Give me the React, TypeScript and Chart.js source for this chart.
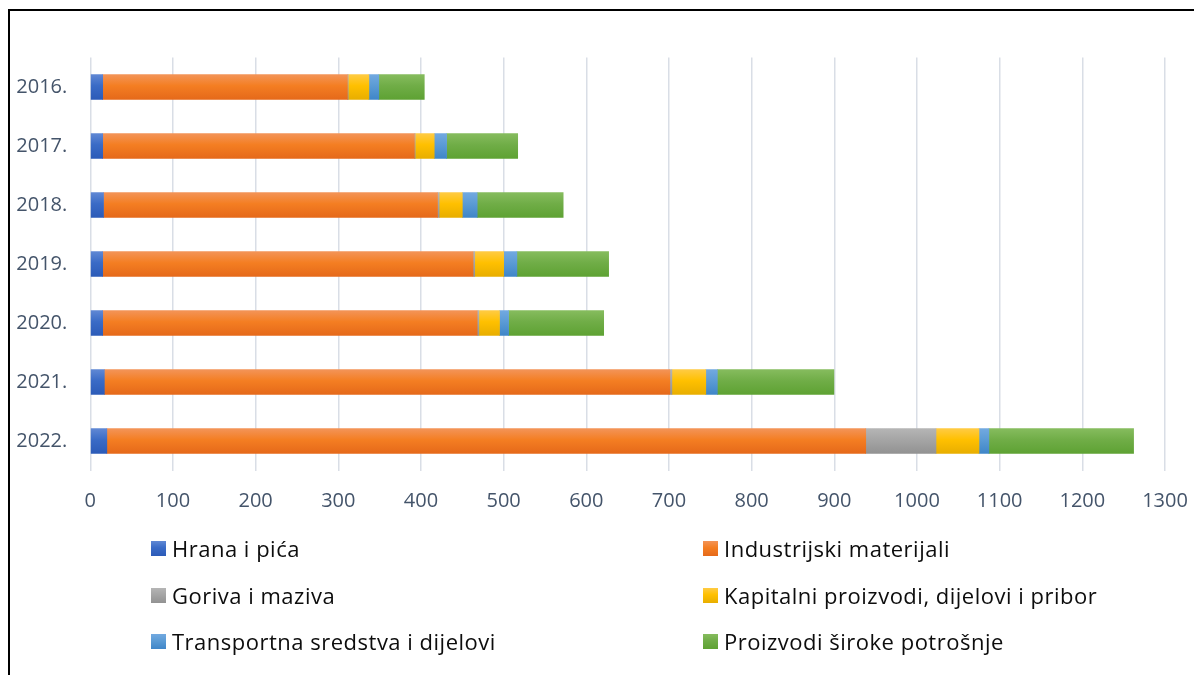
import React, { useEffect, useRef } from "react";
import { Chart, registerables } from "chart.js";

Chart.register(...registerables);

const years = ["2016.", "2017.", "2018.", "2019.", "2020.", "2021.", "2022."];
const seriesNames = [
  "Hrana i pića",
  "Industrijski materijali",
  "Goriva i maziva",
  "Kapitalni proizvodi, dijelovi i pribor",
  "Transportna sredstva i dijelovi",
  "Proizvodi široke potrošnje",
];
const hranaIPica = [15, 15, 16, 15, 15, 17, 20];
const industrijski = [296, 377, 404, 448, 453, 684, 918];
const goriva = [1, 1, 2, 2, 2, 2.5, 85];
const kapitalni = [25, 23, 28, 35, 25, 41, 52];
const transportna = [12, 15, 18, 16, 11, 14, 12];
const siroka = [55, 86, 104, 111, 115, 141, 175];
const xTicks = [0, 100, 200, 300, 400, 500, 600, 700, 800, 900, 1000, 1100, 1200, 1300];

const seriesValues = [hranaIPica, industrijski, goriva, kapitalni, transportna, siroka];
const palettes: [string, string, string][] = [
  ["#6088d4", "#3a6bc6", "#2c5bb8"],
  ["#f39458", "#f47e22", "#e5691a"],
  ["#b5b5b5", "#a5a5a5", "#929292"],
  ["#ffcb44", "#ffc000", "#e8ae00"],
  ["#72a9e0", "#5b9bd5", "#3f86c8"],
  ["#86bc5e", "#70ad47", "#5ea233"],
];

const BAR_H = 25;

export default function App() {
  const ref = useRef<HTMLCanvasElement | null>(null);
  useEffect(() => {
    document.body.style.margin = "0";
    const canvas = ref.current!;
    const makeBg = (pal: [string, string, string]) => (c: any) => {
      const chart = c.chart;
      const ys = chart.scales && chart.scales.y;
      if (!ys || c.type !== "data") return pal[1];
      const center = ys.getPixelForValue(c.dataIndex);
      if (!isFinite(center)) return pal[1];
      const g = chart.ctx.createLinearGradient(0, center - BAR_H / 2, 0, center + BAR_H / 2);
      g.addColorStop(0, pal[0]);
      g.addColorStop(0.45, pal[1]);
      g.addColorStop(1, pal[2]);
      return g;
    };
    const chart = new Chart(canvas, {
      type: "bar",
      data: {
        labels: years,
        datasets: seriesNames.map((name, i) => ({
          label: name,
          data: seriesValues[i],
          backgroundColor: makeBg(palettes[i]),
          borderWidth: 0,
          barThickness: BAR_H,
        })),
      },
      options: {
        indexAxis: "y",
        responsive: false,
        animation: false,
        layout: { padding: { top: 57.5, right: 29, left: 0, bottom: 0 } },
        plugins: { legend: { display: false }, tooltip: { enabled: false } },
        scales: {
          x: {
            stacked: true,
            min: 0,
            max: 1300,
            afterFit: (s: any) => {
              s.height = 204.5;
              s.paddingLeft = 0;
              s.paddingRight = 0;
            },
            afterBuildTicks: (s: any) => {
              s.ticks = xTicks.map((v) => ({ value: v }));
            },
            grid: { color: "#d9dee6", lineWidth: 1.5, drawTicks: false },
            border: { display: false },
            ticks: {
              padding: 19,
              color: "#44546a",
              maxRotation: 0,
              font: { family: "'Open Sans'", size: 20 },
              callback: (v: any) => String(v),
            },
          },
          y: {
            stacked: true,
            afterFit: (s: any) => {
              s.width = 90.3;
            },
            grid: { display: false, drawTicks: false },
            border: { display: false },
            ticks: {
              padding: 23,
              color: "#44546a",
              font: { family: "'Open Sans'", size: 20 },
            },
          },
        },
      },
    });
    chart.update();
    return () => chart.destroy();
  }, []);

  const legendPos = [
    [151, 548],
    [703, 548],
    [151, 595],
    [703, 595],
    [151, 641],
    [703, 641],
  ];

  return (
    <div style={{ position: "relative", width: 1194, height: 675, overflow: "hidden", background: "#fff" }}>
      <canvas ref={ref} width={1194} height={675} style={{ position: "absolute", left: 0, top: 0 }} />
      <div
        style={{
          position: "absolute",
          left: 8,
          top: 9,
          width: 1300,
          height: 800,
          border: "2px solid #000",
          pointerEvents: "none",
        }}
      />
      {seriesNames.map((name, i) => (
        <div
          key={name}
          style={{
            position: "absolute",
            left: legendPos[i][0],
            top: legendPos[i][1] - 15,
            height: 30,
            display: "flex",
            alignItems: "center",
            fontFamily: "'Open Sans'",
            fontSize: 22,
            letterSpacing: 0.5,
            color: "#0d0d0d",
            whiteSpace: "nowrap",
          }}
        >
          <span
            style={{
              display: "inline-block",
              width: 15,
              height: 15,
              marginRight: 6,
              background: `linear-gradient(${palettes[i][0]}, ${palettes[i][1]} 45%, ${palettes[i][2]})`,
            }}
          />
          {name}
        </div>
      ))}
    </div>
  );
}
